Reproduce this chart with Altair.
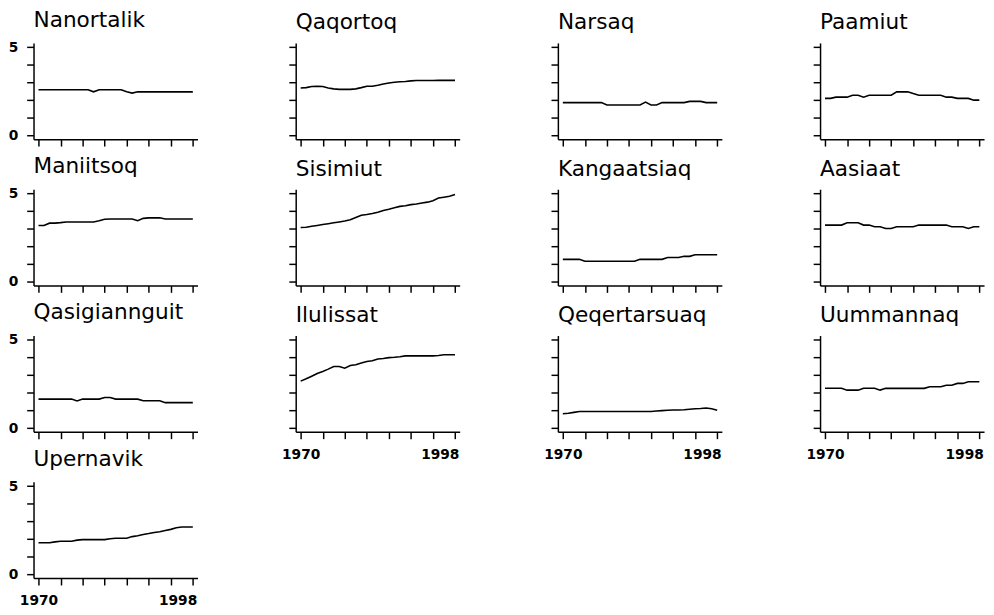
import altair as alt
import pandas as pd

years = list(range(1970, 1999))

towns = ["Nanortalik", "Qaqortoq", "Narsaq", "Paamiut",
         "Maniitsoq", "Sisimiut", "Kangaatsiaq", "Aasiaat",
         "Qasigiannguit", "Ilulissat", "Qeqertarsuaq", "Uummannaq",
         "Upernavik"]

nanortalik = [2.6, 2.6, 2.6, 2.6, 2.6, 2.6, 2.6, 2.6, 2.6, 2.6, 2.48, 2.6, 2.6, 2.6, 2.6,
              2.6, 2.48, 2.41, 2.48, 2.48, 2.48, 2.48, 2.48, 2.48, 2.48, 2.48, 2.48, 2.48, 2.48]
qaqortoq = [2.7, 2.72, 2.78, 2.8, 2.78, 2.7, 2.65, 2.62, 2.62, 2.62, 2.65, 2.72, 2.8, 2.8, 2.85,
            2.92, 2.98, 3.02, 3.05, 3.07, 3.1, 3.12, 3.12, 3.12, 3.12, 3.13, 3.13, 3.13, 3.13]
narsaq = [1.87, 1.87, 1.87, 1.87, 1.87, 1.87, 1.87, 1.87, 1.74, 1.74, 1.74, 1.74, 1.74, 1.74, 1.74,
          1.9, 1.74, 1.74, 1.87, 1.87, 1.87, 1.87, 1.87, 1.94, 1.94, 1.94, 1.87, 1.87, 1.87]
paamiut = [2.11, 2.11, 2.18, 2.18, 2.18, 2.29, 2.29, 2.18, 2.29, 2.29, 2.29, 2.29, 2.29, 2.48, 2.48,
           2.48, 2.38, 2.29, 2.29, 2.29, 2.29, 2.29, 2.18, 2.18, 2.11, 2.11, 2.11, 2.01, 2.01]
maniitsoq = [3.2, 3.2, 3.33, 3.33, 3.36, 3.4, 3.4, 3.4, 3.4, 3.4, 3.4, 3.47, 3.55, 3.57, 3.57,
             3.57, 3.57, 3.57, 3.47, 3.6, 3.63, 3.63, 3.63, 3.57, 3.57, 3.57, 3.57, 3.57, 3.57]
sisimiut = [3.08, 3.1, 3.15, 3.2, 3.25, 3.3, 3.35, 3.4, 3.45, 3.52, 3.65, 3.78, 3.82, 3.88, 3.95,
            4.05, 4.12, 4.2, 4.28, 4.32, 4.38, 4.42, 4.47, 4.52, 4.6, 4.75, 4.8, 4.85, 4.95]
kangaatsiaq = [1.28, 1.28, 1.28, 1.28, 1.17, 1.17, 1.17, 1.17, 1.17, 1.17, 1.17, 1.17, 1.17, 1.17, 1.28,
               1.28, 1.28, 1.28, 1.28, 1.38, 1.38, 1.38, 1.45, 1.45, 1.54, 1.54, 1.54, 1.54, 1.54]
aasiaat = [3.22, 3.22, 3.22, 3.22, 3.35, 3.35, 3.35, 3.22, 3.22, 3.13, 3.13, 3.03, 3.03, 3.13, 3.13,
           3.13, 3.13, 3.22, 3.22, 3.22, 3.22, 3.22, 3.22, 3.13, 3.13, 3.13, 3.03, 3.13, 3.13]
qasigiannguit = [1.65, 1.65, 1.65, 1.65, 1.65, 1.65, 1.65, 1.55, 1.65, 1.65, 1.65, 1.65, 1.74, 1.74, 1.65,
                 1.65, 1.65, 1.65, 1.65, 1.56, 1.56, 1.56, 1.56, 1.45, 1.45, 1.45, 1.45, 1.45, 1.45]
ilulissat = [2.67, 2.8, 2.95, 3.1, 3.22, 3.35, 3.5, 3.5, 3.4, 3.55, 3.6, 3.7, 3.78, 3.82, 3.92,
             3.95, 4.0, 4.02, 4.05, 4.1, 4.1, 4.1, 4.1, 4.1, 4.1, 4.12, 4.16, 4.16, 4.16]
qeqertarsuaq = [0.82, 0.85, 0.9, 0.95, 0.95, 0.95, 0.95, 0.95, 0.95, 0.95, 0.95, 0.95, 0.95, 0.95, 0.95,
                0.95, 0.95, 0.98, 1.0, 1.02, 1.03, 1.03, 1.05, 1.08, 1.1, 1.12, 1.15, 1.1, 1.02]
uummannaq = [2.27, 2.27, 2.27, 2.27, 2.16, 2.16, 2.16, 2.27, 2.27, 2.27, 2.16, 2.26, 2.26, 2.26, 2.26,
             2.26, 2.26, 2.26, 2.26, 2.35, 2.35, 2.35, 2.44, 2.44, 2.54, 2.54, 2.63, 2.63, 2.63]
upernavik = [1.8, 1.8, 1.8, 1.85, 1.89, 1.89, 1.89, 1.95, 1.98, 1.98, 1.98, 1.98, 1.98, 2.03, 2.06,
             2.06, 2.06, 2.15, 2.2, 2.27, 2.32, 2.38, 2.43, 2.5, 2.56, 2.65, 2.69, 2.69, 2.69]

series = [nanortalik, qaqortoq, narsaq, paamiut, maniitsoq, sisimiut, kangaatsiaq, aasiaat,
          qasigiannguit, ilulissat, qeqertarsuaq, uummannaq, upernavik]

x_ticks = [1970, 1974, 1978, 1982, 1986, 1990, 1994, 1998]
y_ticks = [0, 1, 2, 3, 4, 5]

rows = []
for name, vals in zip(towns, series):
    for yr, v in zip(years, vals):
        rows.append({"town": name, "year": yr, "value": v})
df = pd.DataFrame(rows)

FONT = "DejaVu Sans"
n = len(towns)
ncol = 4
charts = []
for i, name in enumerate(towns):
    col = i % ncol
    show_x = (i + ncol) >= n
    show_y = col == 0
    xaxis = alt.Axis(
        values=x_ticks, grid=False, tickSize=7, labels=show_x,
        labelExpr="datum.value == 1970 || datum.value == 1998 ? datum.label : ''",
        labelAlign={"expr": "datum.value == 1998 ? 'right' : 'center'"},
        labelOffset={"expr": "datum.value == 1998 ? 4 : 0"},
        labelPadding=9, labelFlush=False, labelOverlap=False, format="d",
        labelFont=FONT, labelFontSize=14, labelFontWeight="bold", labelColor="black",
        domainColor="black", domainWidth=1.5, tickColor="black", tickWidth=1.5,
    )
    yaxis = alt.Axis(
        values=y_ticks, grid=False, tickSize=7, labels=show_y,
        labelExpr="datum.value == 0 || datum.value == 5 ? datum.label : ''",
        labelPadding=9, labelOverlap=False, labelFlush=False,
        labelFont=FONT, labelFontSize=14, labelFontWeight="bold", labelColor="black",
        domainColor="black", domainWidth=1.5, tickColor="black", tickWidth=1.5,
    )
    c = (
        alt.Chart(df)
        .transform_filter(alt.datum.town == name)
        .mark_line(color="black", strokeWidth=1.6)
        .encode(
            x=alt.X("year:Q", scale=alt.Scale(domain=[1969.1, 1998.85], nice=False, zero=False),
                    axis=xaxis, title=None),
            y=alt.Y("value:Q", scale=alt.Scale(domain=[-0.2, 5.25], nice=False, zero=False),
                    axis=yaxis, title=None),
        )
        .properties(
            width=167, height=98,
            title=alt.TitleParams(text=name, anchor="start", frame="group", font=FONT,
                                  fontSize=22, fontWeight="normal", color="black",
                                  baseline="bottom", offset=-13),
        )
    )
    charts.append(c)

chart = (
    alt.concat(*charts, columns=ncol, spacing={"row": 51, "column": 100}, bounds="flush")
    .properties(padding={"left": 0, "top": -5, "right": 2, "bottom": 2}, background="white")
    .configure_view(strokeWidth=0)
)

chart.save("out.html", embed_options={"renderer": "svg", "actions": False})
